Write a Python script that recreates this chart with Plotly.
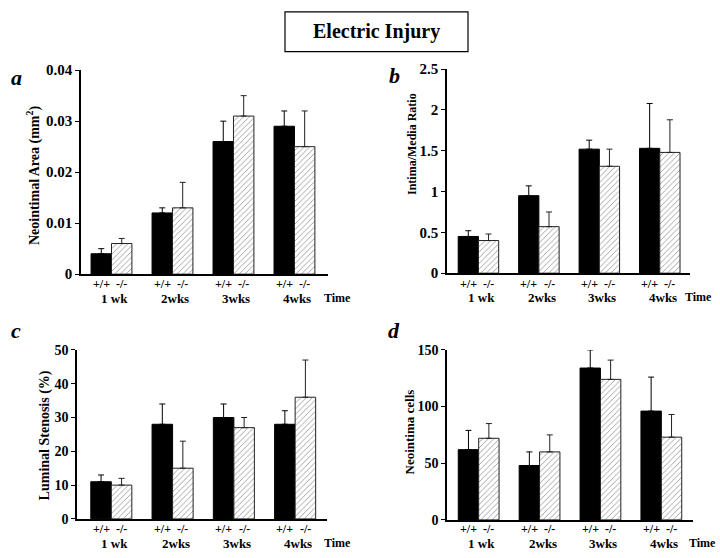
import plotly.graph_objects as go

weeks = ["1 wk", "2wks", "3wks", "4wks"]
genotypes = ["+/+", "-/-"]

# Panel a: Neointimal Area (mm^2)
a_wt = [0.004, 0.012, 0.026, 0.029]
a_wt_err = [0.001, 0.001, 0.004, 0.003]
a_ko = [0.006, 0.013, 0.031, 0.025]
a_ko_err = [0.001, 0.005, 0.004, 0.007]

# Panel b: Intima/Media Ratio
b_wt = [0.45, 0.95, 1.52, 1.53]
b_wt_err = [0.07, 0.12, 0.11, 0.55]
b_ko = [0.40, 0.57, 1.31, 1.48]
b_ko_err = [0.08, 0.18, 0.21, 0.40]

# Panel c: Luminal Stenosis (%)
c_wt = [11, 28, 30, 28]
c_wt_err = [2, 6, 4, 4]
c_ko = [10, 15, 27, 36]
c_ko_err = [2, 8, 3, 11]

# Panel d: Neointima cells
d_wt = [62, 48, 134, 96]
d_wt_err = [17, 12, 16, 30]
d_ko = [72, 60, 124, 73]
d_ko_err = [13, 15, 17, 20]

FONT = "Liberation Serif"
W, H = 720, 558

def px(x):
    return x / W

def py(y):
    return (H - y) / H

panels = [
    dict(key="", wt=a_wt, wte=a_wt_err, ko=a_ko, koe=a_ko_err,
         xd=[px(81), px(328)], yd=[py(274), py(64)], yr=[0, 0.04],
         tv=[0, 0.01, 0.02, 0.03, 0.04], tt=["0", "0.01", "0.02", "0.03", "0.04"],
         xr=[-0.5, 3.55], letter="a", lx=16, ly=72, fs=15,
         title="Neointimal Area (mm<sup>2</sup>)", tx=33, ty=172, ts=14,
         gy=284, wy=299, timex=353),
    dict(key="2", wt=b_wt, wte=b_wt_err, ko=b_ko, koe=b_ko_err,
         xd=[px(447), px(690)], yd=[py(273), py(63)], yr=[0, 2.5],
         tv=[0, 0.5, 1, 1.5, 2, 2.5], tt=["0", "0.5", "1", "1.5", "2", "2.5"],
         xr=[-0.52, 3.5], letter="b", lx=394, ly=70, fs=15,
         title="Intima/Media Ratio", tx=412, ty=140, ts=12,
         gy=284, wy=298, timex=714),
    dict(key="3", wt=c_wt, wte=c_wt_err, ko=c_ko, koe=c_ko_err,
         xd=[px(77), px(327)], yd=[py(526), py(352)], yr=[0, 50],
         tv=[0, 10, 20, 30, 40, 50], tt=["0", "10", "20", "30", "40", "50"],
         xr=[-0.56, 3.52], letter="c", lx=16, ly=332, fs=14,
         title="Luminal Stenosis (%)", tx=45, ty=440, ts=14,
         gy=536, wy=551, timex=353),
    dict(key="4", wt=d_wt, wte=d_wt_err, ko=d_ko, koe=d_ko_err,
         xd=[px(447), px(693)], yd=[py(527), py(352)], yr=[0, 150],
         tv=[0, 50, 100, 150], tt=["0", "50", "100", "150"],
         xr=[-0.52, 3.52], letter="d", lx=394, ly=332, fs=14,
         title="Neointima cells", tx=409, ty=437, ts=13,
         gy=536, wy=551, timex=718),
]

fig = go.Figure()
annotations = []
layout = {}

for p in panels:
    k = p["key"]
    xa = "x" + k
    ya = "y" + k
    fig.add_trace(go.Bar(
        x=weeks, y=p["wt"], xaxis=xa, yaxis=ya, name="+/+",
        marker=dict(color="black", line=dict(color="black", width=1)),
        error_y=dict(type="data", array=p["wte"], arrayminus=[0] * 4,
                     symmetric=False, color="black", thickness=1, width=3),
        showlegend=False,
    ))
    fig.add_trace(go.Bar(
        x=weeks, y=p["ko"], xaxis=xa, yaxis=ya, name="-/-",
        marker=dict(color="white", line=dict(color="#222222", width=1),
                    pattern=dict(shape="/", fgcolor="#333333", bgcolor="white",
                                 size=4, solidity=0.22)),
        error_y=dict(type="data", array=p["koe"], arrayminus=[0] * 4,
                     symmetric=False, color="#222222", thickness=1, width=3),
        showlegend=False,
    ))
    layout["xaxis" + k] = dict(
        domain=p["xd"], anchor=ya, type="category", range=p["xr"],
        showline=True, linecolor="black", linewidth=2, ticks="",
        showticklabels=False, showgrid=False, zeroline=False, fixedrange=True,
    )
    layout["yaxis" + k] = dict(
        domain=p["yd"], anchor=xa, range=p["yr"], tickvals=p["tv"], ticktext=p["tt"],
        showline=True, linecolor="black", linewidth=1.5, ticks="outside",
        ticklen=4, tickwidth=1, tickcolor="black", showgrid=False, zeroline=False,
        tickfont=dict(family=FONT, size=p["fs"], color="black", weight="bold"),
        fixedrange=True,
    )
    # genotype labels under each bar
    for w in weeks:
        for g, shift in zip(genotypes, [-10.2, 10.2]):
            annotations.append(dict(
                x=w, xref=xa, y=py(p["gy"]), yref="paper", xshift=shift,
                text=g, showarrow=False, xanchor="center", yanchor="middle",
                font=dict(family=FONT, size=12, color="black", weight="bold"),
            ))
        annotations.append(dict(
            x=w, xref=xa, y=py(p["wy"]), yref="paper", xshift=3,
            text=w, showarrow=False, xanchor="center", yanchor="middle",
            font=dict(family=FONT, size=13, color="black", weight="bold"),
        ))
    annotations.append(dict(
        x=px(p["timex"]), xref="paper", y=py(p["wy"]), yref="paper",
        text="Time", showarrow=False, xanchor="right", yanchor="middle",
        font=dict(family=FONT, size=12, color="black", weight="bold"),
    ))
    annotations.append(dict(
        x=px(p["lx"]), xref="paper", y=py(p["ly"]), yref="paper",
        text="<b><i>" + p["letter"] + "</i></b>", showarrow=False,
        xanchor="center", yanchor="middle",
        font=dict(family=FONT, size=22, color="black"),
    ))
    annotations.append(dict(
        x=px(p["tx"]), xref="paper", y=py(p["ty"]), yref="paper",
        text=p["title"], showarrow=False, textangle=-90,
        xanchor="center", yanchor="middle",
        font=dict(family=FONT, size=p["ts"], color="black", weight="bold"),
    ))

annotations.append(dict(
    x=px(376.5), xref="paper", y=py(24), yref="paper",
    text="Electric Injury", showarrow=False, xanchor="center", yanchor="middle",
    font=dict(family=FONT, size=20, color="black", weight="bold"),
))

fig.update_layout(
    width=W, height=H, margin=dict(l=0, r=0, t=0, b=0),
    paper_bgcolor="white", plot_bgcolor="white",
    barmode="group", bargap=0.33, bargroupgap=0,
    annotations=annotations,
    shapes=[dict(type="rect", xref="paper", yref="paper",
                 x0=px(285), x1=px(468), y0=py(45), y1=py(4),
                 line=dict(color="black", width=1.2))],
    **layout,
)

fig.write_html(
    "out.html",
    config={"displayModeBar": False},
    post_script="document.body.style.margin='0';document.body.style.padding='0';"
                "document.body.style.overflow='hidden';",
)
